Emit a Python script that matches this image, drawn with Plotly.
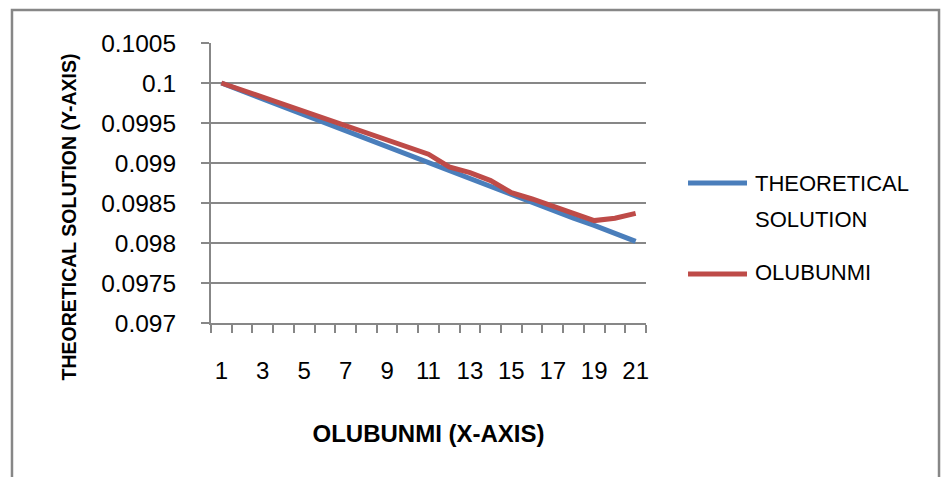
import plotly.graph_objects as go

# x positions (time steps) and the two solution series
steps = list(range(1, 22))
theoretical = [0.1, 0.09990, 0.09980, 0.09970, 0.09960, 0.09950, 0.09940,
               0.09930, 0.09920, 0.09910, 0.09900, 0.09891, 0.09881, 0.09871,
               0.09861, 0.09851, 0.09841, 0.09831, 0.09822, 0.09812, 0.09802]
olubunmi = [0.1, 0.09991, 0.09982, 0.09973, 0.09964, 0.09956, 0.09947,
            0.09938, 0.09929, 0.09920, 0.09911, 0.09895, 0.09888, 0.09878,
            0.09863, 0.09855, 0.09846, 0.09837, 0.09828, 0.09831, 0.09837]

y_tickvals = [0.097, 0.0975, 0.098, 0.0985, 0.099, 0.0995, 0.1, 0.1005]
y_ticktext = ["0.097", "0.0975", "0.098", "0.0985", "0.099", "0.0995", "0.1", "0.1005"]
x_tickvals = [1, 3, 5, 7, 9, 11, 13, 15, 17, 19, 21]

BLUE = "#4A7EBB"
RED = "#BE4B48"
GRID = "#878787"
FONT = "Liberation Sans, Arial, sans-serif"

fig = go.Figure()
fig.add_trace(go.Scatter(x=steps, y=theoretical, mode="lines", name="THEORETICAL SOLUTION",
                         line=dict(color=BLUE, width=5)))
fig.add_trace(go.Scatter(x=steps, y=olubunmi, mode="lines", name="OLUBUNMI",
                         line=dict(color=RED, width=5)))

fig.update_layout(
    width=941, height=477,
    margin=dict(l=211, r=295, t=43, b=154),
    paper_bgcolor="white", plot_bgcolor="white",
    showlegend=False,
)

fig.update_xaxes(
    range=[0.5, 21.5],
    tickvals=x_tickvals,
    ticks="outside", ticklen=0,
    minor=dict(tick0=0.5, dtick=1, ticks="outside", ticklen=8, tickcolor=GRID, tickwidth=2),
    showline=True, linecolor=GRID, linewidth=2,
    showgrid=False, zeroline=False,
    tickfont=dict(family=FONT, size=24, color="black"),
    ticklabelstandoff=25,
    title=dict(text="<b>OLUBUNMI (X-AXIS)</b>", standoff=42,
               font=dict(family=FONT, size=24, color="black")),
)

fig.update_yaxes(
    range=[0.097, 0.1005],
    tickvals=y_tickvals, ticktext=y_ticktext,
    ticks="outside", ticklen=8, tickcolor=GRID, tickwidth=2,
    showline=True, linecolor=GRID, linewidth=2,
    showgrid=True, gridcolor=GRID, gridwidth=2,
    zeroline=False,
    tickfont=dict(family=FONT, size=24.5, color="black"),
    ticklabelstandoff=20,
)

# y-axis title, placed a little below the plot's vertical centre
fig.add_annotation(xref="paper", yref="paper", x=-0.3275, y=0.379,
                   text="<b>THEORETICAL SOLUTION (Y-AXIS)</b>", textangle=-90,
                   showarrow=False, xanchor="center", yanchor="middle",
                   font=dict(family=FONT, size=19.5, color="black"))

# chart-area frame
fig.add_shape(type="rect", xref="paper", yref="paper",
              x0=-0.4575, x1=1.6736, y0=-0.7, y1=1.1179,
              line=dict(color=GRID, width=2.5), fillcolor="rgba(0,0,0,0)", layer="below")

# legend: swatches and labels
legend_swatches = [(BLUE, 0.5), (RED, 0.175)]
for color, yy in legend_swatches:
    fig.add_shape(type="line", xref="paper", yref="paper",
                  x0=1.0966, x1=1.2322, y0=yy, y1=yy,
                  line=dict(color=color, width=5))
legend_lines = [("THEORETICAL", 0.5), ("SOLUTION", 0.368), ("OLUBUNMI", 0.1786)]
for label, yy in legend_lines:
    fig.add_annotation(xref="paper", yref="paper", x=1.246, y=yy,
                       text=label, showarrow=False, xanchor="left", yanchor="middle",
                       align="left", font=dict(family=FONT, size=22, color="black"))

fig.write_html("out.html")
